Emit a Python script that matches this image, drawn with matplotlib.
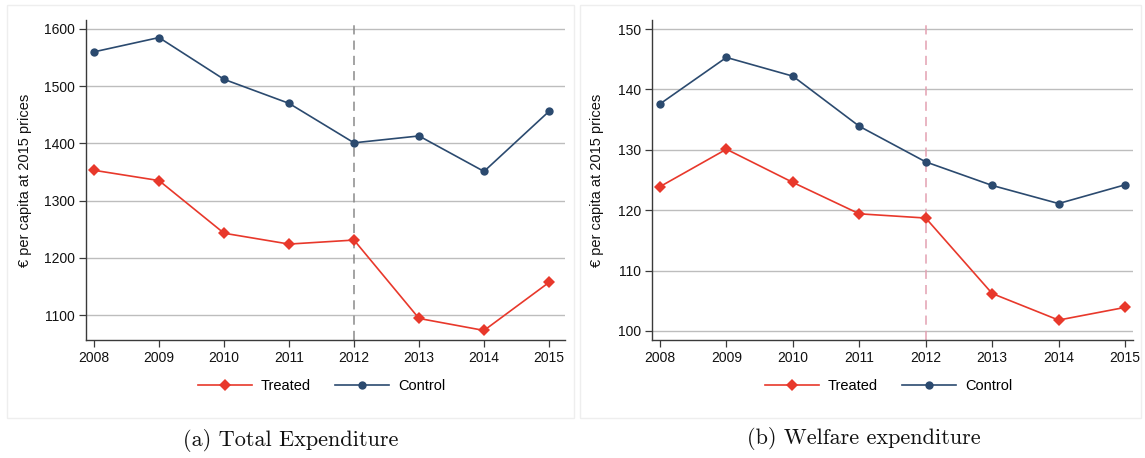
import matplotlib
matplotlib.use("Agg")
import matplotlib.pyplot as plt
from matplotlib.patches import Rectangle
from matplotlib.lines import Line2D

years = [2008, 2009, 2010, 2011, 2012, 2013, 2014, 2015]

total_treated = [1353, 1335, 1243, 1224, 1231, 1094, 1073, 1157]
total_control = [1560, 1585, 1512, 1470, 1401, 1413, 1351, 1456]

welfare_treated = [123.9, 130.1, 124.6, 119.4, 118.7, 106.2, 101.8, 103.9]
welfare_control = [137.6, 145.3, 142.2, 133.9, 128.0, 124.1, 121.1, 124.2]

total_ticks = [1100, 1200, 1300, 1400, 1500, 1600]
welfare_ticks = [100, 110, 120, 130, 140, 150]

captions = ["(a) Total Expenditure", "(b) Welfare expenditure"]
ylabel = "€ per capita at 2015 prices"
reform_year = 2012

RED = "#e8382b"
NAVY = "#2b4a6f"
GRID = "#bdbdbd"
AXIS = "#3a3a3a"

plt.rcParams["font.family"] = ["Liberation Sans", "DejaVu Sans"]

W, H = 1145, 458
fig = plt.figure(figsize=(W / 100, H / 100), dpi=100)


def px_box(x0, y0, x1, y1):
    return [x0 / W, 1 - y1 / H, (x1 - x0) / W, (y1 - y0) / H]


# light panel frames
for (x0, x1) in [(7, 574), (580, 1141)]:
    fig.patches.append(Rectangle((x0 / W, 1 - 418 / H), (x1 - x0) / W, 413 / H,
                                 transform=fig.transFigure, fill=False,
                                 edgecolor="#eeeeee", linewidth=1.0))

panels = [
    dict(box=(86, 20, 565, 340), xlim=(2007.877, 2015.246), ylim=(1056.3, 1615.7),
         treated=total_treated, control=total_control, ticks=total_ticks,
         vcolor="#8a8a8a", cap_x=291, cap_y=441, lab_x=32),
    dict(box=(652, 20, 1133, 340), xlim=(2007.88, 2015.12), ylim=(98.5, 151.5),
         treated=welfare_treated, control=welfare_control, ticks=welfare_ticks,
         vcolor="#e3a1b1", cap_x=864, cap_y=439, lab_x=604),
]

for p, cap in zip(panels, captions):
    x0, y0, x1, y1 = p["box"]
    ax = fig.add_axes(px_box(x0, y0, x1, y1))
    ax.set_xlim(*p["xlim"])
    ax.set_ylim(*p["ylim"])
    for t in p["ticks"]:
        ax.axhline(t, color=GRID, linewidth=1.0, zorder=1)
    ax.axvline(reform_year, color=p["vcolor"], linewidth=1.1,
               linestyle=(0, (6, 4)), zorder=2)
    ax.plot(years, p["treated"], color=RED, linewidth=1.2, marker="D",
            markersize=6.5, markeredgewidth=0, zorder=3, label="Treated")
    ax.plot(years, p["control"], color=NAVY, linewidth=1.2, marker="o",
            markersize=6, markeredgewidth=0, zorder=3, label="Control")
    ax.set_xticks(years)
    ax.set_yticks(p["ticks"])
    ax.tick_params(axis="both", labelsize=10, length=5, width=0.9, color=AXIS,
                   pad=3, labelcolor="#111111")
    for side in ["top", "right"]:
        ax.spines[side].set_visible(False)
    for side in ["left", "bottom"]:
        ax.spines[side].set_color(AXIS)
        ax.spines[side].set_linewidth(1.0)
    ax.set_ylabel(ylabel, fontsize=10.5, color="#111111")
    ax.yaxis.set_label_coords((p["lab_x"] - x0) / (x1 - x0), 0.5)

    handles = [
        Line2D([], [], color=RED, linewidth=1.2, marker="D", markersize=6.5,
               markeredgewidth=0),
        Line2D([], [], color=NAVY, linewidth=1.2, marker="o", markersize=6,
               markeredgewidth=0),
    ]
    cx = (x0 + x1) / 2 / W
    fig.legend(handles, ["Treated", "Control"], loc="center",
               bbox_to_anchor=(cx - 4 / W, 1 - 386 / H), ncol=2, frameon=False,
               fontsize=10.5, handlelength=3.7, columnspacing=1.7,
               handletextpad=0.6)

    fig.text(p["cap_x"] / W, 1 - p["cap_y"] / H, cap, family="cmr10",
             fontsize=16, ha="center", va="center", color="#111111")

fig.savefig("out.png", dpi=100, facecolor="white")
